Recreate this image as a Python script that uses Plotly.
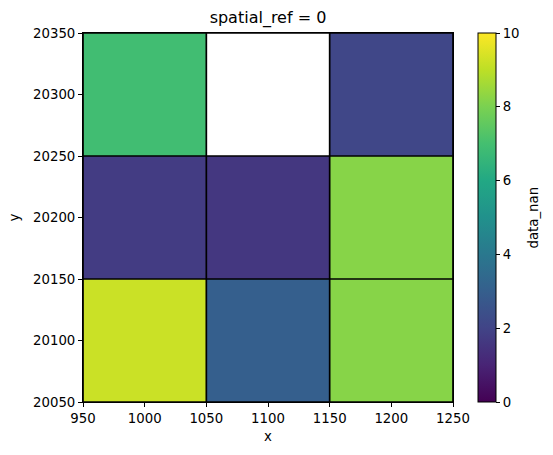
import numpy as np
import plotly.graph_objects as go

x_centers = [1000, 1100, 1200]
y_centers = [20100, 20200, 20300]
values = [
    [9.2, 3.0, 8.2],    # y = 20100
    [1.75, 1.6, 8.2],   # y = 20200
    [6.9, None, 2.1],   # y = 20300
]
x_ticks = [950, 1000, 1050, 1100, 1150, 1200, 1250]
y_ticks = [20050, 20100, 20150, 20200, 20250, 20300, 20350]
cbar_ticks = [0, 2, 4, 6, 8, 10]

# matplotlib viridis sampled at 11 points
viridis_colors = ["#440154", "#482475", "#414487", "#355f8d", "#2a788e", "#21918c",
                  "#22a884", "#44bf70", "#7ad151", "#bddf26", "#fde725"]
colorscale = [[i / 10, c] for i, c in enumerate(viridis_colors)]

FONT = "DejaVu Sans"

def edges(c):
    c = np.asarray(c, dtype=float)
    d = np.diff(c)
    mids = c[:-1] + d / 2
    return np.concatenate([[c[0] - d[0] / 2], mids, [c[-1] + d[-1] / 2]])

xe = edges(x_centers)
ye = edges(y_centers)

fig = go.Figure()
fig.add_trace(go.Heatmap(
    x=x_centers, y=y_centers, z=values,
    colorscale=colorscale, zmin=0, zmax=10,
    hoverongaps=False,
    colorbar=dict(
        x=(478 - 83) / 370, xanchor="left", xref="paper",
        y=0.5, yanchor="middle", len=1, lenmode="fraction",
        thickness=18, outlinewidth=1, outlinecolor="black",
        tickvals=cbar_ticks, ticks="outside", ticklen=4, tickwidth=1,
        tickcolor="black",
        tickfont=dict(family=FONT, size=13.3, color="black"),
        xpad=0, ypad=0,
    ),
))

# cell edges (pcolormesh edgecolor)
lx, ly = [], []
for xv in xe:
    lx += [xv, xv, None]
    ly += [ye[0], ye[-1], None]
for yv in ye:
    lx += [xe[0], xe[-1], None]
    ly += [yv, yv, None]
fig.add_trace(go.Scatter(x=lx, y=ly, mode="lines",
                         line=dict(color="black", width=1.7),
                         hoverinfo="skip", showlegend=False))

axis_common = dict(
    showgrid=False, zeroline=False, showline=True, linecolor="black",
    linewidth=1, mirror=True, ticks="outside", ticklen=4, tickwidth=1,
    tickcolor="black", tickfont=dict(family=FONT, size=13.3, color="black"),
    tickformat="d", automargin=False,
)
fig.update_xaxes(range=[xe[0], xe[-1]], tickvals=x_ticks,
                 title=dict(text="x", font=dict(family=FONT, size=13.3, color="black"),
                            standoff=6),
                 **axis_common)
fig.update_yaxes(range=[ye[0], ye[-1]], tickvals=y_ticks,
                 title=dict(text="y", font=dict(family=FONT, size=13.3, color="black"),
                            standoff=10),
                 **axis_common)

fig.add_annotation(text="data_nan", xref="paper", yref="paper",
                   x=(533 - 83) / 370, y=0.5, xanchor="center", yanchor="middle",
                   textangle=-90, showarrow=False,
                   font=dict(family=FONT, size=13.3, color="black"))

fig.update_layout(
    width=553, height=455,
    margin=dict(l=83, r=100, t=33, b=53),
    paper_bgcolor="white", plot_bgcolor="white",
    title=dict(text="spatial_ref = 0", x=(83 + 453) / 2 / 553, xanchor="center",
               y=1 - 17 / 455, yanchor="middle",
               font=dict(family=FONT, size=16, color="black")),
    showlegend=False,
)

fig.write_html("out.html", config={"displayModeBar": False},
               post_script="document.body.style.margin='0';")
